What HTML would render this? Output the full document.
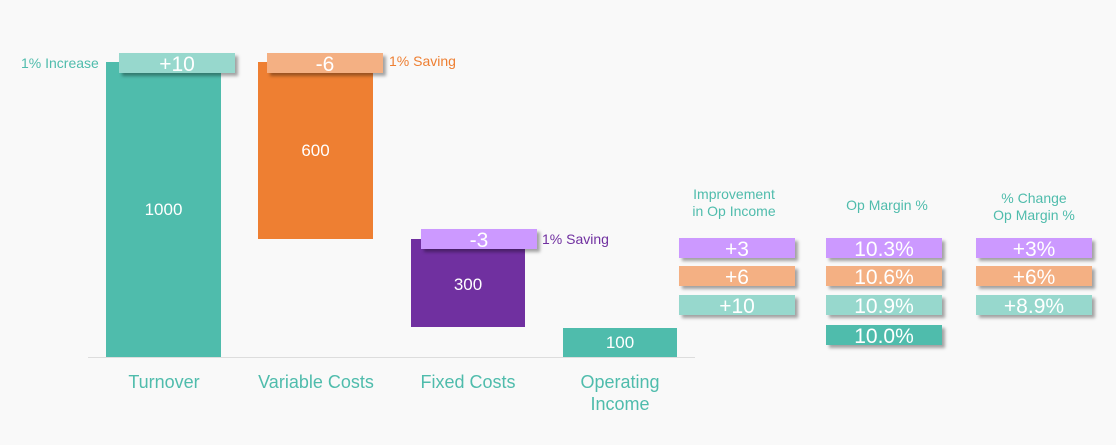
<!DOCTYPE html>
<html><head><meta charset="utf-8"><style>
body{margin:0;width:1116px;height:445px;background:#f9f9f9;position:relative;overflow:hidden;font-family:"Liberation Sans",sans-serif}
.a{position:absolute}
.bar{position:absolute;color:#fff;display:flex;align-items:center;justify-content:center;font-size:17px}
.box{position:absolute;height:20px;width:116px;color:#fff;display:flex;align-items:center;justify-content:center;font-size:21px;box-shadow:3px 3px 3px rgba(0,0,0,.35);line-height:20px;padding-top:3px;box-sizing:border-box}
.lbl{position:absolute;color:#4fbcac;font-size:18px;text-align:center;width:160px;line-height:22px}
.hd{position:absolute;color:#4fbcac;font-size:14px;text-align:center;width:140px;line-height:17px}
.p{background:#cc99ff}.o{background:#f4b083}.t{background:#97d8cd}.g{background:#4fbcac}
</style></head><body>
<div class="a" style="left:88px;top:357px;width:607px;height:1px;background:#ddd"></div>
<div class="bar" style="left:106px;top:62px;width:115px;height:295px;background:#4fbcac">1000</div>
<div class="bar" style="left:258px;top:62px;width:115px;height:177px;background:#ee7f32">600</div>
<div class="bar" style="left:411px;top:239px;width:114px;height:88px;background:#7030a0;padding-top:4px;box-sizing:border-box">300</div>
<div class="bar" style="left:563px;top:328px;width:114px;height:29px;background:#4fbcac">100</div>
<div class="box t" style="left:119px;top:53px">+10</div>
<div class="box o" style="left:267px;top:53px">-6</div>
<div class="box p" style="left:421px;top:229px">-3</div>
<div class="a" style="left:21px;top:55px;font-size:14px;color:#4fbcac">1% Increase</div>
<div class="a" style="left:389px;top:53px;font-size:14px;color:#ee7f32">1% Saving</div>
<div class="a" style="left:542px;top:231px;font-size:14px;color:#7030a0">1% Saving</div>
<div class="lbl" style="left:84px;top:371px">Turnover</div>
<div class="lbl" style="left:236px;top:371px">Variable Costs</div>
<div class="lbl" style="left:388px;top:371px">Fixed Costs</div>
<div class="lbl" style="left:540px;top:371px">Operating<br>Income</div>
<div class="hd" style="left:664px;top:186px">Improvement<br>in Op Income</div>
<div class="hd" style="left:817px;top:197px">Op Margin %</div>
<div class="hd" style="left:964px;top:190px">% Change<br>Op Margin %</div>
<div class="box p" style="left:679px;top:238px">+3</div>
<div class="box o" style="left:679px;top:266px">+6</div>
<div class="box t" style="left:679px;top:295px">+10</div>
<div class="box p" style="left:826px;top:238px">10.3%</div>
<div class="box o" style="left:826px;top:266px">10.6%</div>
<div class="box t" style="left:826px;top:295px">10.9%</div>
<div class="box g" style="left:826px;top:325px">10.0%</div>
<div class="box p" style="left:976px;top:238px">+3%</div>
<div class="box o" style="left:976px;top:266px">+6%</div>
<div class="box t" style="left:976px;top:295px">+8.9%</div>
</body></html>
